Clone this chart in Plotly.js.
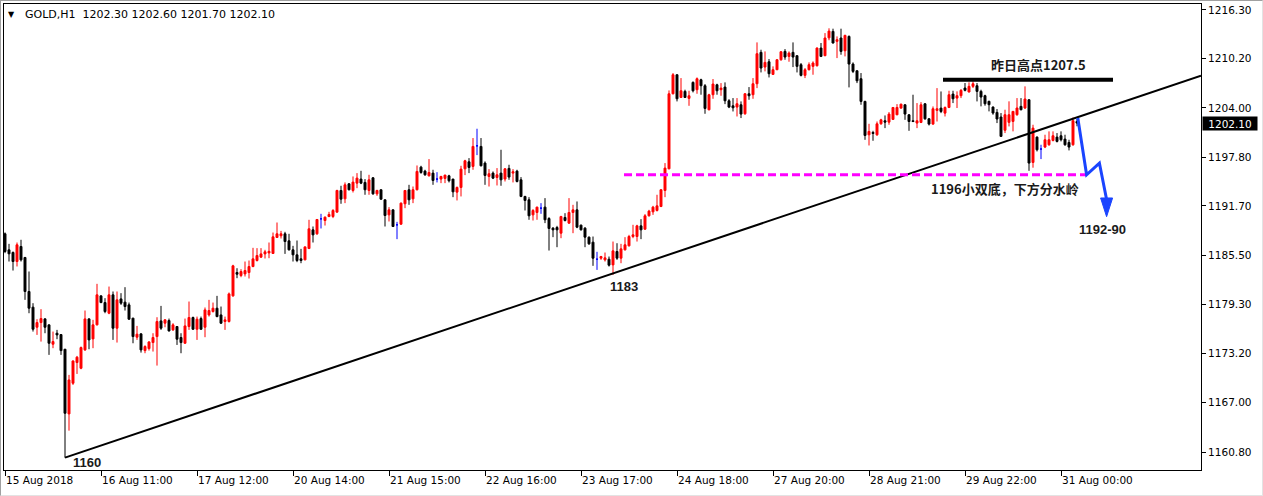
<!DOCTYPE html>
<html><head><meta charset="utf-8">
<script src="https://cdn.plot.ly/plotly-3.0.1.min.js"></script>
<style>
html,body{margin:0;padding:0;background:#fff;}
#chart{width:1263px;height:496px;}
#frame{position:absolute;left:0;top:0;width:1261px;height:494px;border:1px solid;border-color:#a0a0a0 #e3e3e3 #e3e3e3 #a0a0a0;pointer-events:none;}
</style>
</head><body><div id="chart"></div><div id="frame"></div>
<script>
// ---- data (GOLD, H1 bars, one per hour) ----
const opens = [1188.20,1186.19,1185.86,1184.72,1186.61,1185.23,1180.96,1178.99,1176.47,1177.06,
1177.52,1176.77,1174.34,1175.72,1175.55,1173.71,1165.59,1169.44,1172.04,1171.32,
1173.63,1177.52,1175.01,1176.77,1180.41,1179.57,1178.23,1180.54,1176.35,1180.03,
1179.62,1179.28,1177.61,1175.22,1175.64,1173.54,1173.79,1174.55,1175.30,1177.27,
1176.98,1177.31,1176.14,1176.56,1175.18,1174.46,1176.56,1177.69,1176.22,1177.56,
1176.47,1178.02,1178.44,1178.86,1178.02,1177.19,1177.19,1180.41,1183.34,1182.96,
1183.17,1183.34,1184.09,1184.85,1185.27,1185.68,1185.80,1185.73,1187.74,1187.95,
1188.20,1187.32,1186.19,1185.56,1185.06,1184.93,1186.35,1188.70,1188.20,1190.08,
1189.87,1190.37,1190.37,1190.92,1193.64,1192.59,1194.48,1193.64,1194.56,1195.07,
1194.65,1193.64,1195.23,1193.22,1193.73,1192.47,1190.58,1191.21,1189.33,1189.41,
1191.97,1193.73,1192.59,1193.73,1196.57,1196.07,1195.48,1195.82,1195.07,1195.07,
1195.15,1195.48,1195.07,1193.43,1194.02,1196.36,1197.24,1196.66,1199.25,1199.17,
1197.08,1195.40,1195.82,1195.27,1195.82,1195.07,1196.41,1195.82,1196.07,1194.98,
1192.89,1192.47,1190.58,1190.88,1191.42,1191.55,1190.12,1188.91,1188.99,1188.28,
1190.25,1189.54,1190.88,1191.21,1189.29,1188.91,1187.78,1187.15,1185.01,1185.14,
1184.93,1185.01,1184.30,1185.98,1185.14,1186.19,1186.69,1187.86,1187.86,1189.20,
1188.78,1190.46,1190.96,1191.13,1191.63,1193.64,1196.36,1205.78,1208.17,1205.32,
1206.08,1205.20,1207.21,1206.29,1207.54,1206.79,1203.77,1205.66,1206.91,1206.29,
1206.62,1204.90,1204.27,1204.11,1204.40,1203.27,1205.78,1205.66,1207.04,1210.98,
1209.13,1209.80,1208.21,1208.80,1210.05,1211.10,1210.47,1210.98,1210.56,1209.43,
1208.09,1208.80,1209.22,1209.30,1211.52,1210.56,1212.80,1213.61,1212.36,1212.78,
1211.18,1212.98,1209.51,1208.67,1207.67,1204.82,1200.63,1200.92,1200.63,1202.01,
1202.39,1202.22,1202.56,1203.14,1203.98,1204.40,1203.14,1202.39,1202.10,1202.18,
1204.52,1202.64,1201.97,1203.69,1203.98,1203.35,1204.06,1205.74,1205.24,1205.54,
1206.50,1206.00,1206.71,1206.79,1206.08,1205.54,1204.83,1204.11,1203.44,1202.86,
1201.20,1202.19,1202.31,1203.15,1204.20,1203.99,1205.03,1197.16,1200.34,1198.84,
1199.09,1199.38,1199.92,1200.34,1200.51,1200.09,1199.67,1199.38,1202.30];

const highs = [1188.37,1186.94,1185.98,1187.11,1187.45,1185.30,1183.47,1179.49,1177.48,1178.74,
1177.61,1176.80,1175.93,1176.14,1175.60,1173.75,1170.49,1172.30,1172.87,1174.05,
1178.57,1177.60,1177.40,1181.92,1180.45,1180.12,1181.58,1180.96,1180.96,1180.75,
1181.50,1179.57,1177.65,1176.64,1175.70,1174.21,1174.70,1175.72,1177.73,1179.15,
1177.48,1177.56,1176.98,1176.60,1175.72,1177.56,1179.70,1177.81,1177.81,1177.81,
1178.95,1179.91,1179.57,1180.41,1179.07,1177.81,1180.83,1184.31,1183.88,1183.76,
1184.72,1184.85,1186.44,1186.40,1186.40,1186.19,1187.11,1188.36,1189.62,1188.57,
1188.45,1188.20,1186.69,1187.36,1186.31,1186.61,1189.96,1189.12,1190.04,1190.71,
1190.37,1190.96,1191.30,1193.73,1194.23,1194.65,1194.56,1195.40,1195.82,1196.11,
1195.07,1195.61,1195.32,1193.73,1193.75,1192.50,1191.55,1191.25,1189.70,1192.13,
1193.70,1194.35,1194.14,1196.78,1196.74,1196.24,1197.58,1196.24,1195.94,1195.48,
1195.61,1195.61,1195.10,1194.14,1196.74,1197.49,1197.70,1200.22,1201.39,1200.22,
1197.29,1196.32,1196.03,1196.45,1198.75,1196.45,1196.87,1196.32,1196.24,1195.32,
1192.97,1192.80,1191.30,1191.60,1192.05,1192.68,1190.29,1189.04,1189.20,1190.46,
1190.79,1192.68,1191.84,1192.26,1189.35,1189.04,1187.86,1187.86,1185.94,1185.43,
1185.85,1185.35,1187.23,1187.02,1186.94,1187.78,1188.07,1189.33,1189.33,1190.04,
1190.67,1191.21,1191.71,1193.10,1193.81,1197.08,1206.20,1208.38,1208.20,1207.75,
1206.29,1206.16,1207.33,1207.83,1207.67,1207.00,1205.78,1207.63,1207.04,1207.12,
1207.21,1205.11,1205.24,1205.24,1204.82,1205.87,1206.62,1207.75,1212.23,1211.31,
1211.10,1210.14,1209.22,1210.14,1211.10,1211.39,1211.10,1212.23,1210.60,1209.64,
1209.01,1209.72,1209.85,1211.60,1212.15,1213.40,1214.00,1213.95,1212.98,1213.95,
1213.19,1213.10,1209.72,1208.70,1208.38,1204.90,1202.01,1201.13,1202.30,1202.64,
1203.06,1203.48,1204.10,1204.48,1204.52,1204.45,1203.23,1205.66,1204.61,1204.73,
1204.61,1202.72,1204.19,1206.49,1206.07,1204.19,1206.16,1206.16,1206.08,1206.37,
1207.13,1207.21,1207.34,1207.13,1206.29,1205.66,1204.90,1204.20,1203.86,1203.36,
1203.78,1204.83,1203.60,1205.24,1205.24,1206.71,1205.10,1201.89,1200.43,1199.38,
1200.64,1201.06,1201.06,1200.85,1201.06,1200.64,1200.01,1202.80,1202.60];

const lows = [1185.77,1184.72,1183.59,1184.10,1184.72,1179.91,1178.23,1175.93,1175.51,1174.67,
1175.72,1173.00,1173.84,1174.97,1173.00,1160.10,1163.49,1169.23,1170.61,1171.20,
1173.50,1173.71,1173.84,1176.70,1179.49,1178.23,1178.11,1174.88,1174.55,1179.28,
1178.57,1177.40,1174.46,1174.88,1173.29,1173.21,1173.54,1173.42,1171.66,1176.14,
1176.47,1175.93,1176.01,1174.25,1173.21,1174.40,1176.14,1176.15,1174.88,1176.14,
1175.22,1177.81,1178.32,1177.73,1176.89,1176.14,1177.06,1180.30,1182.63,1182.75,
1182.84,1182.59,1184.01,1184.72,1185.18,1185.10,1185.14,1185.68,1187.70,1187.61,
1185.68,1186.10,1184.72,1184.64,1184.51,1184.89,1186.30,1187.11,1188.07,1188.87,
1189.24,1190.29,1190.17,1190.88,1191.97,1192.05,1193.65,1193.39,1193.93,1194.44,
1193.10,1193.10,1193.10,1192.97,1192.47,1189.12,1189.75,1189.05,1187.53,1189.33,
1191.42,1191.84,1192.05,1193.65,1195.74,1195.48,1195.40,1194.35,1194.65,1194.56,
1194.56,1194.65,1192.80,1192.39,1192.89,1195.57,1195.82,1196.24,1198.08,1196.66,
1194.35,1194.14,1195.07,1194.27,1194.23,1194.77,1194.98,1194.65,1194.65,1192.80,
1191.13,1189.96,1189.87,1189.96,1190.71,1189.54,1186.10,1187.78,1186.52,1187.65,
1189.75,1189.45,1188.28,1188.91,1188.62,1186.52,1186.82,1184.18,1183.67,1184.93,
1184.72,1184.09,1183.05,1184.93,1184.51,1186.10,1186.61,1187.65,1187.23,1187.53,
1188.70,1190.37,1190.58,1191.00,1191.55,1192.80,1196.30,1205.70,1204.82,1205.25,
1205.25,1204.27,1205.95,1205.78,1205.66,1203.27,1203.70,1205.15,1205.66,1205.53,
1204.48,1203.98,1203.56,1202.93,1202.73,1203.14,1205.03,1205.15,1206.49,1208.46,
1208.59,1207.83,1208.17,1208.75,1209.93,1210.05,1209.80,1209.13,1208.46,1207.96,
1207.75,1208.71,1208.17,1209.20,1210.39,1210.50,1212.50,1212.10,1210.26,1210.68,
1210.47,1206.58,1208.38,1207.12,1204.40,1200.00,1199.29,1199.88,1200.50,1201.89,
1201.47,1201.89,1202.51,1203.10,1203.90,1202.51,1201.13,1202.22,1201.47,1202.10,
1202.51,1201.80,1201.89,1202.30,1203.35,1202.93,1203.98,1204.61,1203.99,1205.24,
1206.08,1205.96,1206.50,1204.82,1204.20,1204.28,1203.57,1203.15,1202.10,1200.40,
1200.85,1201.68,1201.06,1203.02,1203.69,1203.86,1196.11,1196.50,1198.54,1197.58,
1198.96,1199.25,1199.80,1199.67,1199.80,1199.25,1198.67,1199.25,1201.70];

const closes = [1185.98,1185.69,1184.72,1186.82,1184.93,1180.96,1178.86,1176.22,1177.06,1177.56,
1176.47,1174.46,1174.67,1175.51,1173.54,1165.67,1169.86,1172.24,1172.71,1173.92,
1177.52,1174.88,1176.77,1180.54,1179.57,1178.44,1180.54,1176.35,1179.91,1179.49,
1179.07,1177.48,1175.30,1175.60,1173.63,1174.05,1174.63,1175.18,1177.19,1176.35,
1177.40,1176.01,1176.77,1174.97,1174.55,1176.64,1177.69,1176.22,1177.48,1176.22,
1178.65,1178.57,1178.86,1177.81,1176.98,1177.40,1180.66,1184.18,1183.13,1183.46,
1183.59,1184.09,1185.06,1185.47,1185.68,1185.94,1186.00,1187.82,1188.20,1188.20,
1187.23,1186.19,1185.56,1184.85,1184.85,1186.56,1188.83,1188.07,1190.00,1190.08,
1190.29,1190.63,1191.13,1193.64,1192.55,1194.35,1193.73,1194.69,1195.19,1194.56,
1193.73,1194.98,1193.22,1193.64,1192.55,1190.50,1191.21,1189.12,1189.33,1192.05,
1193.64,1192.47,1193.73,1196.03,1195.90,1195.61,1195.90,1194.90,1195.07,1195.40,
1195.57,1194.86,1193.47,1194.02,1196.32,1197.37,1196.53,1199.17,1199.25,1196.74,
1195.53,1195.74,1195.19,1195.61,1194.98,1196.36,1195.32,1195.99,1194.77,1192.89,
1192.39,1190.46,1191.13,1191.55,1191.42,1189.96,1188.87,1188.70,1188.70,1190.37,
1189.87,1190.88,1191.21,1189.03,1188.70,1187.78,1186.94,1185.14,1185.01,1185.35,
1185.18,1184.26,1186.06,1185.14,1186.31,1186.82,1187.86,1188.07,1189.20,1188.70,
1190.46,1191.05,1191.55,1191.71,1193.73,1196.45,1205.78,1208.17,1205.15,1206.16,
1205.32,1205.53,1206.16,1207.67,1206.79,1203.94,1205.66,1207.00,1206.16,1206.49,
1204.90,1204.11,1204.02,1204.53,1203.23,1205.78,1205.53,1207.04,1210.81,1209.01,
1209.72,1208.30,1208.80,1210.05,1211.06,1210.39,1210.89,1210.39,1209.22,1208.09,
1208.80,1209.43,1209.64,1211.52,1210.47,1212.78,1213.65,1212.15,1212.57,1211.10,
1213.11,1209.51,1208.59,1207.41,1204.82,1200.55,1201.05,1200.80,1202.01,1202.51,
1202.22,1203.23,1204.06,1204.06,1204.48,1203.23,1202.30,1202.30,1202.39,1204.40,
1202.64,1201.97,1203.90,1203.90,1203.56,1204.06,1205.66,1205.15,1205.54,1206.21,
1206.21,1206.71,1207.04,1206.08,1205.37,1204.53,1204.41,1203.36,1202.61,1200.43,
1203.15,1203.15,1203.57,1203.99,1203.78,1205.12,1197.08,1201.47,1198.75,1198.84,
1200.01,1200.01,1200.51,1199.80,1200.01,1199.38,1199.09,1202.40,1202.10];

const timeLabels = ['15 Aug 2018','16 Aug 11:00','17 Aug 12:00','20 Aug 14:00','21 Aug 15:00',
  '22 Aug 16:00','23 Aug 17:00','24 Aug 18:00','27 Aug 20:00','28 Aug 21:00','29 Aug 22:00','31 Aug 00:00'];
const barsPerLabel = 24;
const priceTicks = [1160.80,1167.00,1173.20,1179.30,1185.50,1191.70,1197.80,1204.00,1210.20,1216.30];
const symbol = 'GOLD,H1';
const lastBar = {o:1202.30, h:1202.60, l:1201.70, c:1202.10};

// ---- drawn objects (analyst markup) ----
const trendLine = {x0:15, y0:1160.1, x1:299, y1:1208.05};
const yesterdayHigh = {x0:234.5, x1:277, y:1207.54};
const supportLine = {x0:154.75, x1:270.5, y:1195.6};
const arrowPath = [[268.2,1202.73],[270.4,1195.61],[273.6,1197.08],[275.4,1192.5]];
const arrowHead = [[273.9,1192.7],[276.9,1192.7],[275.4,1190.35]];

// ---- build ----
const idx = opens.map((_, i) => i);
const isDoji = i => opens[i] === closes[i];
const mainIdx = idx.filter(i => !isDoji(i));
const dojiIdx = idx.filter(isDoji);
const pick = (arr, ids) => ids.map(i => arr[i]);

const candle = (ids, up, down) => ({
  type: 'candlestick', x: ids,
  open: pick(opens, ids), high: pick(highs, ids), low: pick(lows, ids), close: pick(closes, ids),
  increasing: {line: {color: up, width: 1}, fillcolor: up},
  decreasing: {line: {color: down, width: 1}, fillcolor: down},
  whiskerwidth: 0, hoverinfo: 'skip', showlegend: false
});

const traces = [candle(mainIdx, '#ff0000', '#000000'), candle(dojiIdx, '#0000ff', '#0000ff')];

const tickFont = {family: 'DejaVu Sans', size: 10.5, color: '#000'};
const markFont = {family: 'Liberation Sans, Arial', size: 13, color: '#1a1a1a'};
const cjkFont = {family: 'Noto Sans CJK SC', size: 13, color: '#1a1a1a'};
const blue = '#1a44ff';

const toPath = (pts, close) => 'M' + pts.map(p => p[0] + ',' + p[1]).join(' L') + (close ? ' Z' : '');

const layout = {
  width: 1263, height: 496,
  margin: {l: 4, r: 62, t: 4, b: 26, pad: 0},
  paper_bgcolor: '#fff', plot_bgcolor: '#fff',
  showlegend: false,
  xaxis: {
    type: 'linear', range: [-0.25, 299], rangeslider: {visible: false},
    tickvals: timeLabels.map((_, k) => k * barsPerLabel), ticktext: timeLabels,
    ticks: 'outside', ticklen: 5, tickcolor: '#000', tickwidth: 1,
    ticklabelposition: 'outside right',
    showgrid: false, zeroline: false, showline: true, mirror: true, linecolor: '#000', linewidth: 1,
    tickfont: tickFont, fixedrange: true
  },
  yaxis: {
    side: 'right', range: [1158.55, 1217.05],
    tickvals: priceTicks, ticktext: priceTicks.map(v => v.toFixed(2)),
    ticks: 'outside', ticklen: 4, tickcolor: '#000', tickwidth: 1,
    showgrid: false, zeroline: false, showline: true, mirror: true, linecolor: '#000', linewidth: 1,
    tickfont: tickFont, fixedrange: true
  },
  shapes: [
    {type: 'line', xref: 'x', yref: 'y', x0: trendLine.x0, y0: trendLine.y0, x1: trendLine.x1, y1: trendLine.y1,
      line: {color: '#000', width: 2}},
    {type: 'line', xref: 'x', yref: 'y', x0: yesterdayHigh.x0, x1: yesterdayHigh.x1, y0: yesterdayHigh.y, y1: yesterdayHigh.y,
      line: {color: '#000', width: 4}},
    {type: 'line', xref: 'x', yref: 'y', x0: supportLine.x0, x1: supportLine.x1, y0: supportLine.y, y1: supportLine.y,
      line: {color: '#ff00ff', width: 3, dash: '8px,4px'}},
    {type: 'path', xref: 'x', yref: 'y', path: toPath(arrowPath, false), line: {color: blue, width: 3}},
    {type: 'path', xref: 'x', yref: 'y', path: toPath(arrowHead, true), fillcolor: blue, line: {color: blue, width: 1}}
  ],
  annotations: [
    {xref: 'paper', yref: 'paper', x: 0.00627, y: 0.9775, xanchor: 'center', yanchor: 'middle', showarrow: false,
      text: '▼', font: {family: 'DejaVu Sans', size: 8, color: '#000'}},
    {xref: 'paper', yref: 'paper', x: 0.0159, y: 0.9775, xanchor: 'left', yanchor: 'middle', showarrow: false,
      text: symbol + '\u00a0\u00a0' + [lastBar.o, lastBar.h, lastBar.l, lastBar.c].map(v => v.toFixed(2)).join(' '),
      font: {family: 'DejaVu Sans', size: 11, color: '#000'}},
    {xref: 'x', yref: 'y', x: 20.5, y: 1159.43, showarrow: false, text: '<b>1160</b>', font: markFont},
    {xref: 'x', yref: 'y', x: 154.75, y: 1181.54, showarrow: false, text: '<b>1183</b>', font: markFont},
    {xref: 'x', yref: 'y', x: 258.25, y: 1209.43, showarrow: false, text: '<b>昨日高点1207.5</b>', font: cjkFont},
    {xref: 'x', yref: 'y', x: 250, y: 1193.85, showarrow: false, text: '<b>1196小双底，下方分水岭</b>', font: cjkFont},
    {xref: 'x', yref: 'y', x: 274.25, y: 1188.70, showarrow: false, text: '<b>1192-90</b>', font: markFont},
    {xref: 'paper', yref: 'y', x: 1, y: lastBar.c, xanchor: 'left', yanchor: 'middle', xshift: 1, showarrow: false,
      text: lastBar.c.toFixed(2), bgcolor: '#000', font: {family: 'DejaVu Sans', size: 10.5, color: '#fff'},
      width: 52, height: 11, borderpad: 1}
  ]
};

Plotly.newPlot('chart', traces, layout, {displayModeBar: false, staticPlot: true});
</script>
</body></html>
